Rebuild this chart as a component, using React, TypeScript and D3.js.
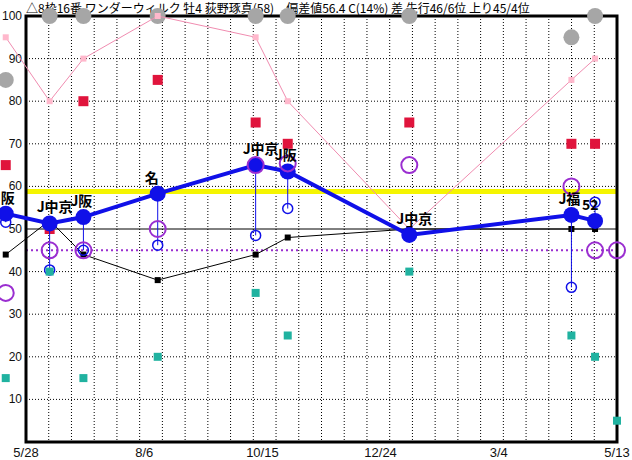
import React from 'react';
import * as d3 from 'd3';

// レース日付 (最後は次走)
const raceDates = ['2022-05-16', '2022-06-11', '2022-07-01', '2022-08-14', '2022-10-11', '2022-10-30', '2023-01-10', '2023-04-16', '2023-04-30'];
const nextDate = '2023-05-13';
const raceLabels = ['J阪', 'J中京', 'J阪', '名', 'J中京', 'J阪', 'J中京', 'J福', '52'];

// 各系列
const mainValues = [53.6, 51.3, 52.8, 58.3, 65, 63.5, 48.6, 53.3, 51.9];
const subValues = [51.6, 40.4, 45, 46.2, 48.5, 54.8, 49, 36.3, 56.3];
const pinkValues = [95, 80, 90, 100, 95, 80, 50, 85, 90];
const grayValues = [85, 100, 100, 100, 100, 100, 100, 95, 100];
const redValues = [65, 50, 80, 85, 75, 70, 75, 70, 70];
const tealValues = [15, 40, 15, 20, 35, 25, 40, 25, 20, 5];
const blackValues = [44, 52, 44, 38, 44, 48, 50, 50, 50];
const purpleValues = [35, 45, 45, 50, 65, 65.4, 65, 60, 45, 45];

const yTicks = [10, 20, 30, 40, 50, 60, 70, 80, 90, 100];
const xTickLabels = ['5/28', '8/6', '10/15', '12/24', '3/4', '5/13'];
const xTickDates = ['2022-05-28', '2022-08-06', '2022-10-15', '2022-12-24', '2023-03-04', '2023-05-13'];
const yellowLevel = 58.8;
const purpleLevel = 45;
const baseLevel = 50;

const title = '△8枠16番 ワンダーウィルク 牡4 荻野琢真(58)　偏差値56.4 C(14%) 差 先行46/6位 上り45/4位';

export default function App() {
  const width = 632;
  const height = 460;
  const left = 26, right = 617, top = 16, bottom = 442;

  const parse = d3.timeParse('%Y-%m-%d');
  const dates = raceDates.map(d => parse(d) as Date);
  const allDates = [...dates, parse(nextDate) as Date];

  const x = d3.scaleTime()
    .domain([parse(xTickDates[0]) as Date, parse(xTickDates[xTickDates.length - 1]) as Date])
    .range([left, right]);
  const y = d3.scaleLinear().domain([0, 100]).range([bottom, top]);

  const cols = 26;
  const colW = (right - left) / cols;
  const vGrid = d3.range(1, cols).map(i => left + i * colW);

  const mainLine = d3.line<number>()
    .x((_, i) => x(dates[i]))
    .y(d => y(d));

  const font = '"Noto Sans CJK JP", "Noto Sans", sans-serif';

  return (
    <svg width={width} height={height} style={{ position: 'absolute', left: 0, top: 0, background: '#fff' }}>
      <text x={left} y={13} fontSize={12} fontFamily={font} fill="#000">{title}</text>

      {/* グリッド */}
      {vGrid.map((gx, i) => (
        <line key={'v' + i} x1={gx} x2={gx} y1={top} y2={bottom} stroke="#000" strokeWidth={1} strokeDasharray="1,2" />
      ))}
      {yTicks.filter(t => t !== 100 && t !== baseLevel).map(t => (
        <line key={'h' + t} x1={left} x2={right} y1={y(t)} y2={y(t)} stroke="#000" strokeWidth={1} strokeDasharray="1,2" />
      ))}

      {yTicks.map(t => (
        <text key={'yl' + t} x={22} y={y(t) + 4} textAnchor="end" fontSize={12} fontFamily="Liberation Sans, Arial, sans-serif" fill="#111">{t}</text>
      ))}
      {xTickLabels.map((l, i) => (
        <text key={'xl' + l} x={x(parse(xTickDates[i]) as Date)} y={457} textAnchor="middle" fontSize={13} fontFamily="Liberation Sans, Arial, sans-serif" fill="#111">{l}</text>
      ))}

      <line x1={left} x2={right} y1={y(yellowLevel)} y2={y(yellowLevel)} stroke="#f5f500" strokeWidth={5} />
      <line x1={left} x2={right} y1={y(purpleLevel)} y2={y(purpleLevel)} stroke="#9a2ed0" strokeWidth={2} strokeDasharray="2,3" />
      <line x1={left} x2={right} y1={y(baseLevel)} y2={y(baseLevel)} stroke="#000" strokeWidth={1} />

      {/* 枠 */}
      <rect x={left} y={top} width={right - left} height={bottom - top} fill="none" stroke="#000" strokeWidth={3} />

      {/* 灰色の丸 */}
      {grayValues.map((v, i) => (
        <circle key={'g' + i} cx={x(dates[i])} cy={y(v)} r={8} fill="#a6a6a6" />
      ))}

      {/* ピンク */}
      <path d={mainLine(pinkValues) || ''} fill="none" stroke="#f08cb0" strokeWidth={1} />
      {pinkValues.map((v, i) => (
        <rect key={'p' + i} x={x(dates[i]) - 3} y={y(v) - 3} width={6} height={6} fill="#ffb8cc" />
      ))}

      {/* 黒 */}
      <path d={mainLine(blackValues) || ''} fill="none" stroke="#000" strokeWidth={1} />
      {blackValues.map((v, i) => (
        <rect key={'b' + i} x={x(dates[i]) - 3} y={y(v) - 3} width={6} height={6} fill="#000" />
      ))}

      {redValues.map((v, i) => (
        <rect key={'r' + i} x={x(dates[i]) - 5} y={y(v) - 5} width={10} height={10} fill="#e0143c" />
      ))}

      {/* 青の縦線と小円 */}
      {subValues.map((v, i) => (
        <g key={'s' + i}>
          <line x1={x(dates[i])} x2={x(dates[i])} y1={y(mainValues[i])} y2={y(v)} stroke="#1010e8" strokeWidth={1} />
          <circle cx={x(dates[i])} cy={y(v)} r={5} fill="none" stroke="#1010e8" strokeWidth={1.5} />
        </g>
      ))}

      {tealValues.map((v, i) => (
        <rect key={'t' + i} x={x(allDates[i]) - 4} y={y(v) - 4} width={8} height={8} fill="#20b2a0" />
      ))}

      {/* メイン */}
      <path d={mainLine(mainValues) || ''} fill="none" stroke="#1010e8" strokeWidth={4} />
      {mainValues.map((v, i) => (
        <circle key={'m' + i} cx={x(dates[i])} cy={y(v)} r={8} fill="#1010e8" />
      ))}

      {purpleValues.map((v, i) => (
        <circle key={'pu' + i} cx={x(allDates[i])} cy={y(v)} r={8} fill="none" stroke="#9a2ed0" strokeWidth={2} />
      ))}

      {raceLabels.map((l, i) => (
        <text key={'l' + i} x={x(dates[i]) - 13} y={y(mainValues[i]) - 11} fontSize={14} fontWeight="bold" fontFamily={font} fill="#000">{l}</text>
      ))}
    </svg>
  );
}
